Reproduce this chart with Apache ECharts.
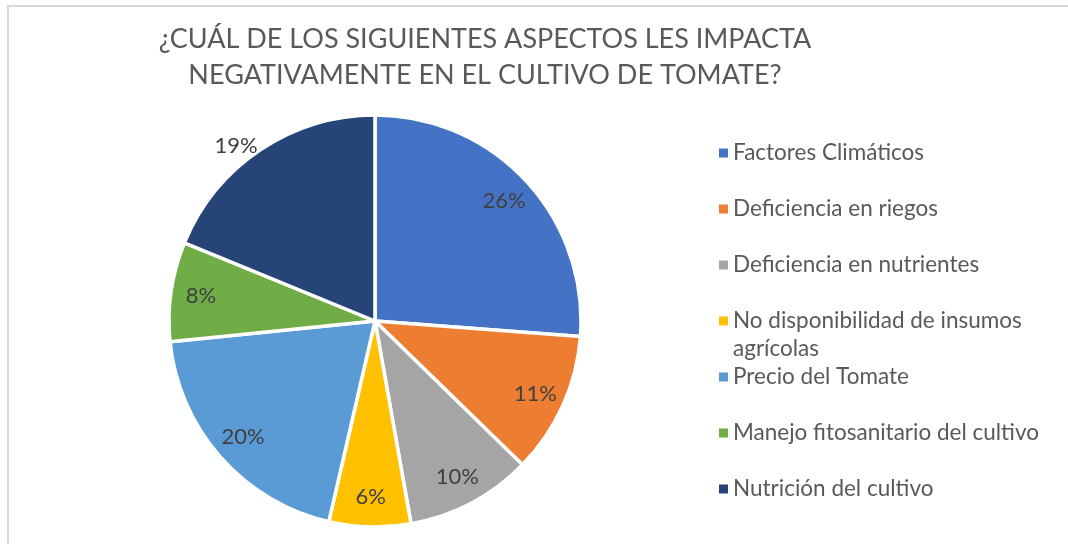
<!DOCTYPE html>
<html>
<head>
<meta charset="utf-8">
<script src="https://cdn.jsdelivr.net/npm/echarts@6/dist/echarts.min.js"></script>
<style>
  html, body { margin: 0; padding: 0; background: #fff; }
  .frame {
    position: absolute; left: 7px; top: 5px; width: 1100px; height: 600px;
    border-top: 2px solid #d9d9d9; border-left: 2px solid #d9d9d9;
  }
  #chart { position: absolute; left: 0; top: 0; width: 1068px; height: 544px; }
</style>
</head>
<body>
<div class="frame"></div>
<div id="chart"></div>
<script>
// categorias y porcentajes estimados del grafico (etiquetas redondeadas: 26,11,10,6,20,8,19)
const categories = [
  'Factores Climáticos',
  'Deficiencia en riegos',
  'Deficiencia en nutrientes',
  'No disponibilidad de insumos agrícolas',
  'Precio del Tomate',
  'Manejo fitosanitario del cultivo',
  'Nutrición del cultivo'
];
const values = [26.2, 11.1, 9.9, 6.4, 19.8, 7.8, 18.8];
const colors = ['#4472C4', '#ED7D31', '#A5A5A5', '#FFC000', '#5B9BD5', '#70AD47', '#264478'];
const titleText = '¿CUÁL DE LOS SIGUIENTES ASPECTOS LES IMPACTA\nNEGATIVAMENTE EN EL CULTIVO DE TOMATE?';

const pieData = categories.map((name, i) => ({ name: name, value: values[i] }));

const myChart = echarts.init(document.getElementById('chart'), null, { renderer: 'canvas' });

// icono del legend: cuadrado al centro de una caja alta (para que todas las filas midan lo mismo)
const legendIcon = 'path://M0,0L0.01,0ZM0,37.5H9V46.5H0ZM0,84L0.01,84Z';

myChart.setOption({
  animation: false,
  color: colors,
  title: {
    text: titleText,
    left: 485,
    top: 21,
    padding: 0,
    textAlign: 'center',
    textStyle: {
      color: '#595959',
      fontFamily: 'Lato',
      fontSize: 27,
      fontWeight: 'normal',
      lineHeight: 36
    }
  },
  legend: {
    orient: 'vertical',
    left: 719,
    top: 111,
    padding: 0,
    itemWidth: 9,
    itemHeight: 84,
    itemGap: -28,
    icon: legendIcon,
    selectedMode: false,
    data: categories,
    itemStyle: { borderWidth: 0 },
    textStyle: {
      color: '#595959',
      fontFamily: 'Lato',
      fontSize: 22.5,
      lineHeight: 28
    },
    formatter: function (name) {
      // el texto largo va en dos lineas, la primera alineada con el icono
      if (name === 'No disponibilidad de insumos agrícolas') {
        return '\nNo disponibilidad de insumos\nagrícolas';
      }
      return name;
    }
  },
  series: [
    {
      type: 'pie',
      center: [375, 321],
      radius: 206,
      startAngle: 90,
      clockwise: true,
      silent: true,
      data: pieData,
      itemStyle: { borderColor: '#fff', borderWidth: 3.5 },
      label: { show: false },
      labelLine: { show: false }
    },
    {
      // anillo transparente solo para ubicar las etiquetas cerca del borde
      type: 'pie',
      center: [375, 321],
      radius: [140, 206],
      startAngle: 90,
      clockwise: true,
      silent: true,
      data: pieData,
      itemStyle: { color: 'transparent' },
      label: {
        show: true,
        position: 'inside',
        formatter: function (p) {
          return Math.round(p.percent) + '%';
        },
        color: '#404040',
        fontFamily: 'Lato',
        fontSize: 22
      },
      labelLine: { show: false },
      labelLayout: function (params) {
        if (params.dataIndex === 6) {
          return { dx: -41, dy: -29 };
        }
      }
    }
  ]
});
</script>
</body>
</html>
